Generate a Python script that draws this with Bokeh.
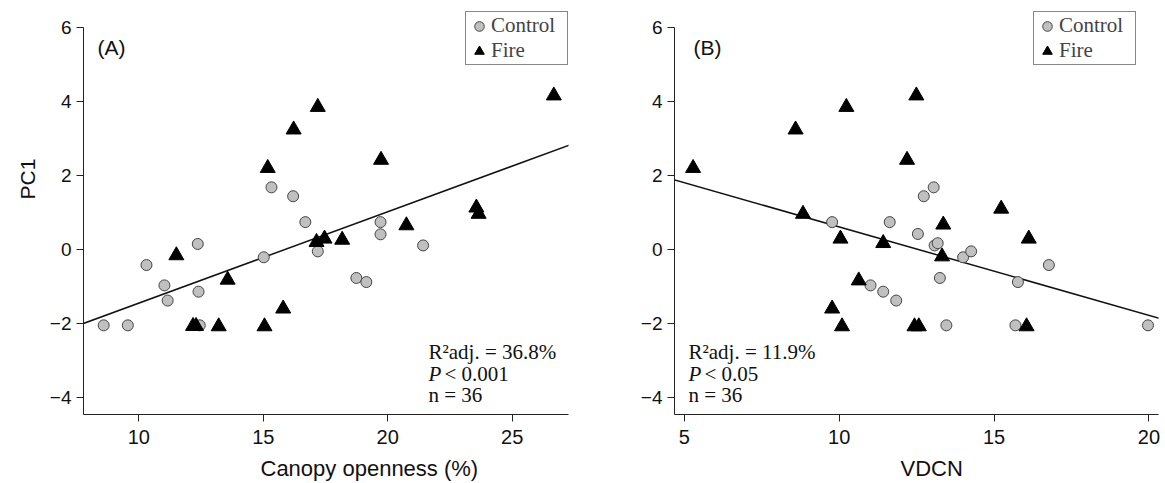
from bokeh.plotting import figure
from bokeh.models import Range1d, Slope, Label, Legend, LegendItem, Title, FixedTicker
from bokeh.layouts import row
from bokeh.embed import file_html
from bokeh.resources import INLINE

# ---------------- data ----------------
# Panel A: canopy openness (%) vs PC1
control_x_A = [8.59, 9.56, 10.31, 11.03, 11.16, 12.37, 12.40, 12.45, 15.02, 15.33, 16.20, 16.69, 17.19, 18.74, 19.14, 19.71, 19.71, 21.42]
control_y_A = [-2.05, -2.05, -0.42, -0.97, -1.38, 0.15, -1.14, -2.05, -0.21, 1.68, 1.44, 0.74, -0.05, -0.77, -0.88, 0.74, 0.41, 0.11]
fire_x_A = [11.51, 12.18, 12.30, 13.21, 13.57, 15.05, 15.18, 15.80, 16.22, 17.14, 17.19, 17.46, 18.17, 19.73, 20.75, 23.56, 23.65, 26.67]
fire_y_A = [-0.16, -2.07, -2.07, -2.08, -0.82, -2.08, 2.20, -1.60, 3.24, 0.20, 3.85, 0.29, 0.26, 2.42, 0.65, 1.13, 0.96, 4.16]
fit_slope_A = 0.247
fit_intercept_A = -3.92

# Panel B: VDCN vs PC1
control_x_B = [9.77, 11.01, 11.42, 11.63, 11.84, 12.54, 12.73, 13.05, 13.08, 13.18, 13.25, 13.46, 14.00, 14.26, 15.69, 15.77, 16.77, 19.97]
control_y_B = [0.74, -0.97, -1.14, 0.74, -1.38, 0.42, 1.44, 1.68, 0.11, 0.17, -0.77, -2.05, -0.21, -0.05, -2.05, -0.88, -0.42, -2.05]
fire_x_B = [5.28, 8.59, 8.83, 9.77, 10.04, 10.09, 10.23, 10.63, 11.42, 12.19, 12.43, 12.49, 12.57, 13.32, 13.36, 15.23, 16.05, 16.12]
fire_y_B = [2.20, 3.24, 0.96, -1.60, 0.29, -2.08, 3.85, -0.84, 0.17, 2.42, -2.08, 4.16, -2.08, -0.19, 0.67, 1.10, -2.08, 0.29]
fit_slope_B = -0.239
fit_intercept_B = 3.0

xticks_A = [10, 15, 20, 25]
xticks_B = [5, 10, 15, 20]
yticks = [-4, -2, 0, 2, 4, 6]
series_labels = ["Control", "Fire"]
panel_tags = ["(A)", "(B)"]
stats_A = ["R\u00b2adj. = 36.8%", "< 0.001", "n = 36"]
stats_B = ["R\u00b2adj. = 11.9%", "< 0.05", "n = 36"]
xlabels = ["Canopy openness (%)", "VDCN"]
ylabel = "PC1"

SANS = "Liberation Sans"
SERIF = "Liberation Serif"
AX = "#222222"
TXT = "#111111"


def lab(p, x, y, text, font, size, style="normal"):
    p.add_layout(Label(x=x, y=y, x_units="screen", y_units="screen", text=text,
                       text_font=font, text_font_size=size, text_font_style=style,
                       text_color=TXT, text_baseline="alphabetic"))


def make_panel(cx, cy, fx, fy, slope, intercept, xr, xticks, width, mb_left, mb_right,
               tag, tag_x, stats, stats_x, xlabel, xlabel_offset, legend_x, with_ylabel):
    p = figure(width=width, height=483, x_range=Range1d(*xr), y_range=Range1d(-4.46, 6.46),
               output_backend="svg", toolbar_location=None,
               min_border_left=mb_left, min_border_right=mb_right,
               min_border_top=10, min_border_bottom=69)
    p.outline_line_color = None
    p.grid.visible = False
    p.background_fill_color = "white"
    p.border_fill_color = "white"

    p.xaxis.ticker = FixedTicker(ticks=xticks)
    p.yaxis.ticker = FixedTicker(ticks=yticks)
    p.yaxis.bounds = (-4.46, 6)
    for ax in (p.xaxis[0], p.yaxis[0]):
        ax.axis_line_color = AX
        ax.axis_line_width = 1
        ax.major_tick_line_color = AX
        ax.major_tick_out = 7
        ax.major_tick_in = 0
        ax.minor_tick_line_color = None
        ax.major_label_text_font = SANS
        ax.major_label_text_color = TXT
    p.xaxis.major_label_text_font_size = "20px"
    p.yaxis.major_label_text_font_size = "19px"
    p.xaxis.major_label_standoff = 8
    p.yaxis.major_label_standoff = 5

    s = Slope(gradient=slope, y_intercept=intercept, line_color=TXT, line_width=1.5)
    s.level = "underlay"
    p.add_layout(s)

    r1 = p.scatter(cx, cy, marker="circle", size=11, fill_color="#c0c0c0",
                   line_color="#444444", line_width=1)
    r2 = p.scatter(fx, fy, marker="triangle", size=15, fill_color="black",
                   line_color="black")

    legend = Legend(items=[LegendItem(label=series_labels[0], renderers=[r1]),
                           LegendItem(label=series_labels[1], renderers=[r2])],
                    location=(legend_x, 349), padding=1, spacing=0, margin=0,
                    glyph_width=24, glyph_height=24, label_standoff=0,
                    label_text_font=SERIF, label_text_font_size="21px",
                    label_height=24, label_width=75,
                    border_line_color=TXT, border_line_width=1.3,
                    background_fill_color="white", background_fill_alpha=1.0)
    p.add_layout(legend)

    lab(p, tag_x, 367, tag, SANS, "21px")

    lab(p, stats_x, 63, stats[0], SERIF, "21px")
    lab(p, stats_x, 41, "P", SERIF, "21px", style="italic")
    lab(p, stats_x + 16, 41, stats[1], SERIF, "21px")
    lab(p, stats_x, 20, stats[2], SERIF, "21px")

    # small spacer between tick labels and axis title
    p.add_layout(Title(text=" ", text_font_size="4px", standoff=0), "below")
    p.add_layout(Title(text=xlabel, align="left", offset=xlabel_offset, standoff=0,
                       text_font=SANS, text_font_size="22px", text_font_style="normal",
                       text_color=TXT), "below")
    if with_ylabel:
        p.add_layout(Title(text=ylabel, align="left", offset=215, standoff=16,
                           text_font=SANS, text_font_size="21px", text_font_style="normal",
                           text_color=TXT), "left")
    return p


pA = make_panel(control_x_A, control_y_A, fire_x_A, fire_y_A, fit_slope_A, fit_intercept_A,
                (7.78, 27.26), xticks_A, 620, 83, 52,
                panel_tags[0], 14, stats_A, 345, xlabels[0], 177, 382, True)
pB = make_panel(control_x_B, control_y_B, fire_x_B, fire_y_B, fit_slope_B, fit_intercept_B,
                (4.68, 20.31), xticks_B, 545, 54, 7,
                panel_tags[1], 19, stats_B, 14, xlabels[1], 226, 359, False)

layout = row(pA, pB)
open("out.html", "w").write(file_html(layout, INLINE))
